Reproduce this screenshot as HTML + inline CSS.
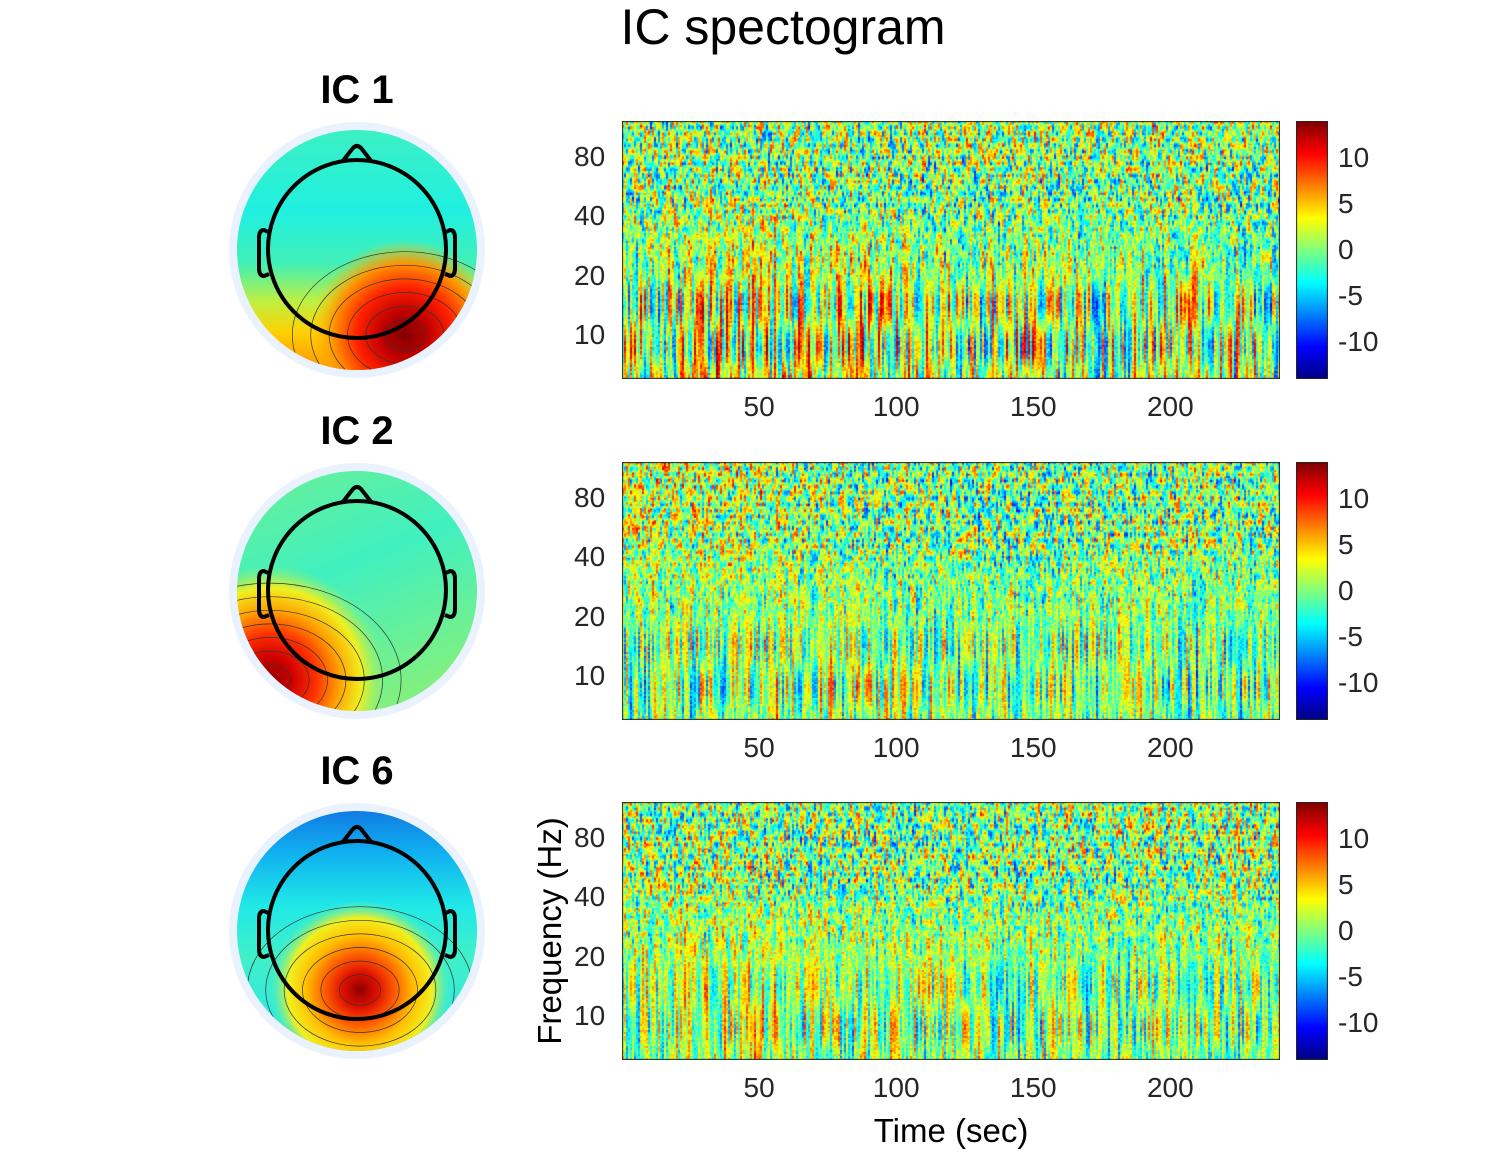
<!DOCTYPE html>
<html><head><meta charset="utf-8">
<style>
body{margin:0;background:#fff;width:1512px;height:1152px;overflow:hidden;position:relative;font-family:"Liberation Sans",sans-serif;}
.abs{position:absolute;}
canvas{position:absolute;}
.tick{position:absolute;font-size:28px;color:#262626;}
</style></head>
<body>
<div class="abs" style="left:0;width:1566px;top:-2px;text-align:center;font-size:50px;color:#000;">IC spectogram</div>
<svg id="topos" class="abs" style="left:0;top:0" width="620" height="1152"></svg>
<div id="root"></div>
<div class="abs" style="left:550px;top:931px;font-size:33px;transform:translate(-50%,-50%) rotate(-90deg);white-space:nowrap;color:#000;">Frequency (Hz)</div>
<div class="abs" style="left:951px;top:1112px;font-size:33px;transform:translateX(-50%);white-space:nowrap;color:#000;">Time (sec)</div>
<script>
// Data: coarse band power (dB) per 20-sec segment
const timeTicks=[50,100,150,200];
const freqTicks=[80,40,20,10];
const cbarTicks=[10,5,0,-5,-10];
const panelTitles=["IC 1","IC 2","IC 6"];
const lowBand1=[1,3,4,3,4,2,1,2,0,1,3,0];
const midBand1=[0,1,1,0,0,-1,0,0,-1,0,0,-1];
const highBand1=[0,0,0,0,0,1,1,1,1,1,1,1];
const lowBand2=[0,1,1,1,1,0,0,-1,0,0,-1,0];
const midBand2=[1,1,1,0,0,0,0,-1,0,0,0,0];
const highBand2=[2,2,1,1,0,0,0,0,0,0,0,0];
const lowBand3=[1,2,2,1,1,1,0,0,0,0,0,0];
const midBand3=[1,1,1,0,0,0,0,0,0,0,0,0];
const highBand3=[0,0,0,0,0,0,0,0,1,1,1,1];
const lows=[lowBand1,lowBand2,lowBand3],mids=[midBand1,midBand2,midBand3],highs=[highBand1,highBand2,highBand3];
const lowAmp=[21,16,15];
const tMax=240, fMin=6, fMax=121, cMin=-14, cMax=14;
const ax={x0:622,x1:1280}, panelTops=[121,462,802], pH=258;
function xs(t){return ax.x0+(t/tMax)*(ax.x1-ax.x0);}
function ys(f,top){return top+pH*(Math.log(fMax)-Math.log(f))/(Math.log(fMax)-Math.log(fMin));}
function jet(v){v=Math.max(0,Math.min(1,v));
 const r=Math.min(1,Math.max(0,1.5-Math.abs(4*v-3))),g=Math.min(1,Math.max(0,1.5-Math.abs(4*v-2))),b=Math.min(1,Math.max(0,1.5-Math.abs(4*v-1)));
 return [r*255|0,g*255|0,b*255|0];}
function texture(i,j,k){let h=(i*374761393+j*668265263+k*2147483647)|0;h=Math.imul(h^(h>>>13),1274126177);return ((h^(h>>>16))>>>0)/4294967296-0.5;}
function smoothTex(i,y,L,k){const a=Math.floor(y/L),f=y/L-a,s=f*f*(3-2*f);return texture(i,a,k)*(1-s)+texture(i,a+1,k)*s;}
function interp(arr,t){const x=t/20-0.5;const a=Math.max(0,Math.min(11,Math.floor(x))),b=Math.min(11,a+1),f=Math.max(0,Math.min(1,x-a));return arr[a]*(1-f)+arr[b]*f;}
const root=document.getElementById('root');
panelTops.forEach((top,p)=>{
 const c=document.createElement('canvas');
 
 
 c.width=ax.x1-ax.x0;c.height=pH;c.style.left=ax.x0+'px';c.style.top=top+'px';
 const ctx=c.getContext('2d');const img=ctx.createImageData(c.width,c.height);
 const cw=2,cols=Math.ceil(c.width/cw);
 for(let i=0;i<cols;i++){
  const t=(i+0.5)/cols*tMax;
  const lo=interp(lows[p],t),mi=interp(mids[p],t),hi=interp(highs[p],t);
  for(let y=0;y<pH;y++){
   const frac=y/pH;
   const w=Math.max(0,Math.min(1,(frac-0.3)/0.45));
   const base=lo*w+mi*(1-w)*(frac/0.3>1?1:frac/0.3)+hi*Math.max(0,1-frac/0.3);
   const nLow=smoothTex(i,y,45,p+3), nHigh=smoothTex(i,y,6,p+7);
   const v=base+nLow*w*lowAmp[p]+nHigh*(1-w)*17+texture(i,y>>1,p+20)*4;
   const col=jet((v-cMin)/(cMax-cMin));
   for(let dx=0;dx<cw;dx++){const xx=i*cw+dx;if(xx>=c.width)break;const idx=(y*c.width+xx)*4;img.data[idx]=col[0];img.data[idx+1]=col[1];img.data[idx+2]=col[2];img.data[idx+3]=255;}
  }
 }
 ctx.putImageData(img,0,0);
 ctx.strokeStyle='#262626';ctx.lineWidth=1;ctx.strokeRect(0.5,0.5,c.width-1,c.height-1);
 root.appendChild(c);
 const cb=document.createElement('canvas');
 
 
 cb.width=32;cb.height=pH;cb.style.left='1296px';cb.style.top=top+'px';
 const cc=cb.getContext('2d');
 for(let y=0;y<pH;y++){const col=jet(1-y/pH);cc.fillStyle=`rgb(${col})`;cc.fillRect(0,y,32,1);}
 cc.strokeStyle='#262626';cc.strokeRect(0.5,0.5,31,pH-1);
 root.appendChild(cb);
 cbarTicks.forEach(v=>{const d=document.createElement('div');d.className='tick';
  
  
  d.textContent=v;d.style.left='1338px';d.style.top=(top+pH*(cMax-v)/(cMax-cMin)-16)+'px';root.appendChild(d);});
 freqTicks.forEach(f=>{const d=document.createElement('div');d.className='tick';
  
  
  d.textContent=f;d.style.left='574px';d.style.top=(ys(f,top)-16)+'px';root.appendChild(d);});
 timeTicks.forEach(t=>{const d=document.createElement('div');d.className='tick';
  
  
  d.textContent=t;d.style.left=xs(t)+'px';d.style.transform='translateX(-50%)';d.style.top=(top+pH+12)+'px';root.appendChild(d);});
 const tt=document.createElement('div');tt.className='abs';
 
 
 tt.textContent=panelTitles[p];tt.style.cssText=`left:357px;top:${top-53}px;transform:translateX(-50%);font-size:40px;font-weight:bold;white-space:nowrap;`;
 root.appendChild(tt);
});
// topoplots
const bgStops=[
 [[0,'#40f0c0'],[0.35,'#20f0e0'],[0.55,'#40f0b8'],[0.7,'#c0f040'],[0.82,'#ffd000'],[1,'#ff8000']],
 [[0,'#70f090'],[0.5,'#40f0c0'],[1,'#80f080']],
 [[0,'#1070e0'],[0.2,'#10b0f0'],[0.4,'#20e8e8'],[0.6,'#40f0c8'],[0.85,'#30e8e0'],[1,'#2090f0']]
];
const blobs=[
 {x:405,y:335,r:95,c:['#800000','#c00000','#ff2000','#ff9000','rgba(255,200,0,0)']},
 {x:270,y:680,r:115,c:['#900000','#d00000','#ff3000','#ffa000','#f0f020','rgba(160,240,100,0)']},
 {x:360,y:990,r:90,c:['#900000','#e01000','#ff6000','#ffc000','#f0f020','rgba(100,240,160,0)']}
];
let svg='<defs>';
panelTops.forEach((top,p)=>{
 const cy=top+129,b=blobs[p];
 svg+=`<clipPath id="cl${p}"><circle cx="357" cy="${cy}" r="120"/></clipPath>`;
 svg+=`<linearGradient id="bg${p}" x1="0" y1="0" x2="${p===1?0.4:0}" y2="1">`+bgStops[p].map(s=>`<stop offset="${s[0]}" stop-color="${s[1]}"/>`).join('')+'</linearGradient>';
 svg+=`<radialGradient id="g${p}" gradientUnits="userSpaceOnUse" cx="${b.x}" cy="${b.y}" r="${b.r}">`+b.c.map((c,i)=>`<stop offset="${i/(b.c.length-1)}" stop-color="${c}"/>`).join('')+'</radialGradient>';
});
svg+='</defs>';
panelTops.forEach((top,p)=>{
 const cy=top+129,b=blobs[p];
 svg+=`<g><circle cx="357" cy="${cy}" r="128" fill="#eaf2fd"/>`;
 svg+=`<g clip-path="url(#cl${p})"><rect x="230" y="${cy-130}" width="260" height="260" fill="url(#bg${p})"/>`;
 svg+=`<circle cx="${b.x}" cy="${b.y}" r="${b.r}" fill="url(#g${p})"/>`;
 for(let r=18;r<b.r*1.1;r+=16) svg+=`<ellipse cx="${b.x}" cy="${b.y}" rx="${r*1.15}" ry="${r*0.85}" fill="none" stroke="#333" stroke-width="0.7"/>`;
 svg+='</g>';
 svg+=`<circle cx="357" cy="${cy-1}" r="89" fill="none" stroke="#000" stroke-width="4"/>`;
 svg+=`<path d="M342 ${cy-88} L353 ${cy-102} Q357 ${cy-106} 361 ${cy-102} L372 ${cy-88}" fill="none" stroke="#000" stroke-width="4"/>`;
 svg+=`<path d="M268 ${cy-18} L264 ${cy-20} Q259 ${cy-20} 259 ${cy-12} L259 ${cy+18} Q259 ${cy+26} 264 ${cy+26} L269 ${cy+24}" fill="none" stroke="#000" stroke-width="4"/>`;
 svg+=`<path d="M446 ${cy-18} L450 ${cy-20} Q455 ${cy-20} 455 ${cy-12} L455 ${cy+18} Q455 ${cy+26} 450 ${cy+26} L445 ${cy+24}" fill="none" stroke="#000" stroke-width="4"/></g>`;
});
document.getElementById('topos').innerHTML=svg;
</script>
</body></html>
